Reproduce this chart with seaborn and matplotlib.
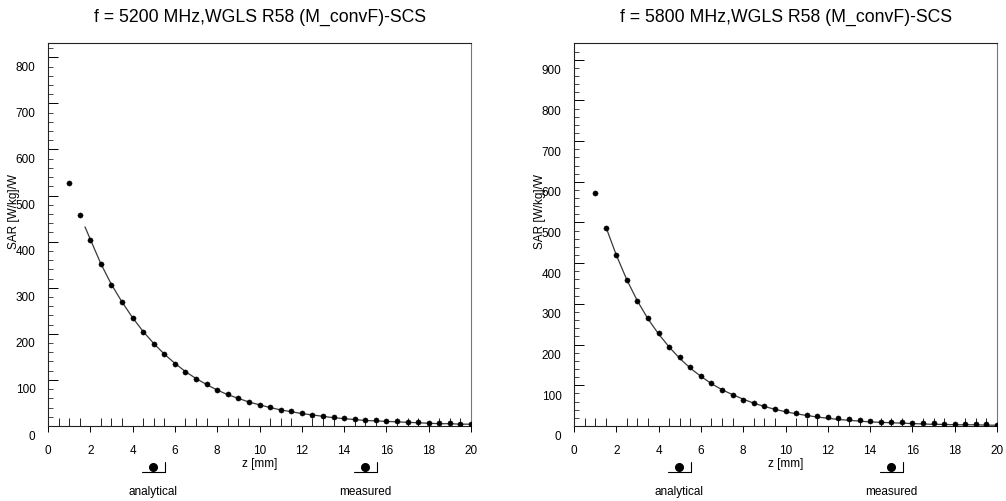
import numpy as np
import pandas as pd
import matplotlib
matplotlib.use("Agg")
import matplotlib.pyplot as plt
import matplotlib.transforms as mtransforms
from matplotlib.lines import Line2D
from matplotlib.ticker import MultipleLocator
import seaborn as sns

# Data
titles = ["f = 5200 MHz,WGLS R58 (M_convF)-SCS",
          "f = 5800 MHz,WGLS R58 (M_convF)-SCS"]

z_meas = [1.0, 1.5, 2.0, 2.5, 3.0, 3.5, 4.0, 4.5, 5.0, 5.5,
          6.0, 6.5, 7.0, 7.5, 8.0, 8.5, 9.0, 9.5, 10.0, 10.5,
          11.0, 11.5, 12.0, 12.5, 13.0, 13.5, 14.0, 14.5, 15.0, 15.5,
          16.0, 16.5, 17.0, 17.5, 18.0, 18.5, 19.0, 19.5, 20.0]

sar_meas_5200 = [527, 458, 403, 351, 306, 269, 234, 204, 178, 156,
                 134, 117, 102, 91, 78, 69, 61, 52, 46, 41,
                 35, 33, 28, 24, 22, 20, 17, 15, 13, 12,
                 11, 10, 9, 8, 7, 6, 6, 5, 4]

sar_meas_5800 = [572, 487, 420, 359, 307, 265, 229, 194, 170, 145,
                 123, 106, 88, 76, 64, 57, 49, 42, 37, 32,
                 28, 24, 22, 19, 16, 14, 12, 11, 10, 9,
                 8, 7, 7, 6, 5, 5, 4, 4, 3]

z_ana_5200 = [1.75, 2.0, 2.5, 3.0, 3.5, 4.0, 4.5, 5.0, 5.5, 6.0,
              6.5, 7.0, 7.5, 8.0, 8.5, 9.0, 9.5, 10.0, 10.5, 11.0,
              11.5, 12.0, 12.5, 13.0, 13.5, 14.0, 14.5, 15.0, 15.5, 16.0,
              16.5, 17.0, 17.5, 18.0, 18.5, 19.0, 19.5, 20.0]
sar_ana_5200 = [432, 405, 352, 307, 269, 235, 205, 179, 156, 136,
                118, 103, 90, 78, 68, 60, 52, 46, 40, 35,
                31, 27, 24, 21, 18, 16, 14, 12, 11, 10,
                9, 8, 7, 6, 5, 5, 4, 4]

z_ana_5800 = [1.5, 2.0, 2.5, 3.0, 3.5, 4.0, 4.5, 5.0, 5.5, 6.0,
              6.5, 7.0, 7.5, 8.0, 8.5, 9.0, 9.5, 10.0, 10.5, 11.0,
              11.5, 12.0, 12.5, 13.0, 13.5, 14.0, 14.5, 15.0, 15.5, 16.0,
              16.5, 17.0, 17.5, 18.0, 18.5, 19.0, 19.5, 20.0]
sar_ana_5800 = [490, 420, 359, 307, 263, 226, 194, 166, 142, 122,
                104, 89, 77, 66, 56, 48, 41, 35, 30, 26,
                22, 19, 16, 14, 12, 10, 9, 8, 7, 6,
                5, 4, 4, 3, 3, 3, 2, 2]

y_tops = [831, 941]
y_major = [100, 100]
label_shift_px = [9, 10]

sns.set_style("ticks")
plt.rcParams["font.family"] = ["Liberation Sans", "DejaVu Sans"]
plt.rcParams["text.color"] = "black"
plt.rcParams["axes.labelcolor"] = "black"
plt.rcParams["xtick.color"] = "black"
plt.rcParams["ytick.color"] = "black"

fig = plt.figure(figsize=(10.06, 5.01), dpi=100)
ax_rects = [[48 / 1006, 75 / 501, 423 / 1006, 383 / 501],
            [574 / 1006, 75 / 501, 423 / 1006, 383 / 501]]

panels = [(z_meas, sar_meas_5200, z_ana_5200, sar_ana_5200),
          (z_meas, sar_meas_5800, z_ana_5800, sar_ana_5800)]

for i, (zm, sm, za, sa) in enumerate(panels):
    ax = fig.add_axes(ax_rects[i])
    meas = pd.DataFrame({"z": zm, "sar": sm})
    ana = pd.DataFrame({"z": za, "sar": sa})
    sns.lineplot(data=ana, x="z", y="sar", ax=ax, color="#3a3a3a",
                 linewidth=0.9, sort=False, estimator=None)
    sns.scatterplot(data=meas, x="z", y="sar", ax=ax, color="black",
                    s=14, edgecolor="black", linewidth=0.3, zorder=3)

    ax.set_xlim(0, 20)
    ax.set_ylim(0, y_tops[i])
    ax.xaxis.set_major_locator(MultipleLocator(2))
    ax.xaxis.set_minor_locator(MultipleLocator(0.5))
    ax.yaxis.set_major_locator(MultipleLocator(y_major[i]))
    ax.yaxis.set_minor_locator(MultipleLocator(20))
    ax.tick_params(axis="x", which="major", direction="out", length=4,
                   width=0.7, pad=10, labelsize=8.5)
    ax.tick_params(axis="x", which="minor", direction="in", length=6,
                   width=0.6)
    ax.tick_params(axis="y", which="major", direction="in", length=7,
                   width=0.7, pad=9, labelsize=8.5)
    ax.tick_params(axis="y", which="minor", direction="in", length=3.5,
                   width=0.5)
    for sp in ax.spines.values():
        sp.set_visible(True)
        sp.set_linewidth(0.8)
        sp.set_color("#222222")
    ax.spines["right"].set_color("#777777")

    ax.set_title(titles[i], fontsize=12.7, pad=15)
    ax.set_xlabel("z [mm]", fontsize=8.5)
    ax.set_ylabel("SAR [W/kg]/W", fontsize=8.5)
    ax.xaxis.set_label_coords(0.5, -0.083)
    ax.yaxis.set_label_coords(-0.066, 0.559)

    # scanned original prints the y tick labels a little below their ticks
    shift = mtransforms.ScaledTranslation(0, -label_shift_px[i] / 100,
                                          fig.dpi_scale_trans)
    for lab in ax.get_yticklabels():
        lab.set_transform(lab.get_transform() + shift)

    # legend keys below each panel
    x0, _, w, _ = ax_rects[i]
    for frac, name in [(0.248, "analytical"), (0.75, "measured")]:
        cx = x0 + frac * w
        y_dot = 1 - 467 / 501
        y_base = 1 - 472 / 501
        fig.add_artist(Line2D([cx - 11 / 1006, cx + 12 / 1006], [y_base, y_base],
                              transform=fig.transFigure, color="black", lw=0.8))
        fig.add_artist(Line2D([cx + 12 / 1006, cx + 12 / 1006],
                              [y_base, y_base + 10 / 501],
                              transform=fig.transFigure, color="black", lw=0.8))
        fig.add_artist(Line2D([cx], [y_dot], transform=fig.transFigure,
                              marker="o", markersize=5.5, color="black",
                              linestyle="none"))
        fig.text(cx, 1 - 492 / 501, name, ha="center", va="center",
                 fontsize=8.5)

fig.savefig("out.png", dpi=100)
